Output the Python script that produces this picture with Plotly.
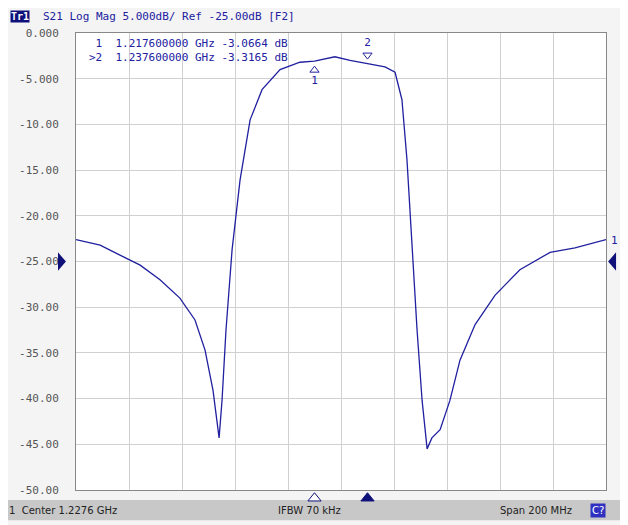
import plotly.graph_objects as go

freq_ghz = [1.1276,1.1367,1.1442,1.1518,1.1593,1.1668,1.1725,1.1763,1.1793,1.1816,1.1827,1.1842,1.1865,1.1895,1.1933,1.1978,1.2046,1.2121,1.2176,1.2253,1.2310,1.2376,1.2442,1.2480,1.2506,1.2525,1.2544,1.2563,1.2582,1.2601,1.2619,1.2650,1.2687,1.2725,1.2782,1.2857,1.2951,1.3065,1.3159,1.3276]
s21_db = [-22.6,-23.2,-24.3,-25.4,-27.0,-29.0,-31.4,-34.7,-39.1,-44.3,-40.2,-32.5,-23.7,-16.1,-9.5,-6.2,-4.0,-3.2,-3.07,-2.6,-3.0,-3.32,-3.7,-4.3,-7.3,-13.9,-23.7,-32.5,-40.2,-45.5,-44.3,-43.4,-40.2,-35.8,-31.9,-28.7,-25.9,-24.0,-23.5,-22.6]
marker_f = [1.2176, 1.2376]
marker_db = [-3.0664, -3.3165]
ytick_vals = [0,-5,-10,-15,-20,-25,-30,-35,-40,-45,-50]
ytick_text = ["0.000","-5.000","-10.00","-15.00","-20.00","-25.00","-30.00","-35.00","-40.00","-45.00","-50.00"]
xtick_vals = [1.1276 + 0.02*i for i in range(11)]

BLUE = "#2020a0"
DARK = "#10107a"
fig = go.Figure()
fig.add_trace(go.Scatter(x=freq_ghz, y=s21_db, mode="lines", line=dict(color=BLUE, width=1.3), hoverinfo="skip"))
fig.add_trace(go.Scatter(x=[marker_f[0]], y=[marker_db[0]-1.0], mode="markers+text", text=["1"], textposition="bottom center",
    marker=dict(symbol="triangle-up-open", size=8, color=BLUE), textfont=dict(color=BLUE, size=11, family="DejaVu Sans Mono")))
fig.add_trace(go.Scatter(x=[marker_f[1]], y=[marker_db[1]+0.9], mode="markers+text", text=["2"], textposition="top center",
    marker=dict(symbol="triangle-down-open", size=8, color=BLUE), textfont=dict(color=BLUE, size=11, family="DejaVu Sans Mono")))

fig.update_xaxes(range=[1.1276, 1.3276], tickvals=xtick_vals, showticklabels=False, showgrid=True, gridcolor="#d0d0d0",
    zeroline=False, showline=True, linecolor="#888", mirror=True, ticks="")
fig.update_yaxes(range=[-50, 0], tickvals=ytick_vals, ticktext=ytick_text, showgrid=True, gridcolor="#d0d0d0",
    zeroline=False, showline=True, linecolor="#888", mirror=True, ticks="", ticklabelstandoff=14,
    tickfont=dict(family="DejaVu Sans Mono", size=11, color="#555"))

def tri_up(xc, filled):
    w = 0.0025
    return dict(type="path", xref="x", yref="paper",
                path=f"M {xc-w} -0.024 L {xc} -0.006 L {xc+w} -0.024 Z",
                fillcolor=DARK if filled else "white", line=dict(color=DARK, width=1))

mono = dict(family="DejaVu Sans Mono", size=12, color=BLUE)
fig.update_layout(
    width=620, height=517, margin=dict(l=68, r=22, t=25, b=35),
    paper_bgcolor="#f4f4f4", plot_bgcolor="white", showlegend=False,
    shapes=[
        dict(type="rect", xref="paper", yref="paper", x0=-0.135, x1=1.03, y0=-0.022, y1=-0.066, fillcolor="#c8c8c8", line=dict(width=0), layer="below"),
        dict(type="path", xref="paper", yref="paper", path="M -0.034 0.52 L -0.019 0.5 L -0.034 0.48 Z", fillcolor=DARK, line=dict(width=0)),
        dict(type="path", xref="paper", yref="paper", path="M 1.019 0.52 L 1.004 0.5 L 1.019 0.48 Z", fillcolor=DARK, line=dict(width=0)),
        tri_up(marker_f[0], False), tri_up(marker_f[1], True),
    ],
)
fig.add_annotation(xref="paper", yref="paper", x=0.02, y=0.995, xanchor="left", yanchor="top", showarrow=False, align="left",
    text=" 1  1.217600000 GHz -3.0664 dB<br>>2  1.237600000 GHz -3.3165 dB", font=dict(family="DejaVu Sans Mono", size=11, color=BLUE))
fig.add_annotation(xref="paper", yref="paper", x=-0.125, y=1.037, xanchor="left", yanchor="middle", showarrow=False,
    text="<b>Tr1</b>", font=dict(family="DejaVu Sans Mono", size=10, color="white"), bgcolor=DARK, borderpad=0)
fig.add_annotation(xref="paper", yref="paper", x=-0.065, y=1.037, xanchor="left", yanchor="middle", showarrow=False,
    text="S21 Log Mag 5.000dB/ Ref -25.00dB [F2]", font=dict(family="DejaVu Sans Mono", size=11, color=BLUE), borderpad=0)
fig.add_annotation(xref="paper", yref="paper", x=1.005, y=0.547, xanchor="left", yanchor="middle", showarrow=False,
    text="1", font=dict(family="DejaVu Sans Mono", size=11, color=BLUE))
sb = dict(family="DejaVu Sans", size=10, color="#222")
fig.add_annotation(xref="paper", yref="paper", x=-0.13, y=-0.044, xanchor="left", yanchor="middle", showarrow=False, text="1  Center 1.2276 GHz", font=sb)
fig.add_annotation(xref="paper", yref="paper", x=0.44, y=-0.044, xanchor="center", yanchor="middle", showarrow=False, text="IFBW 70 kHz", font=sb)
fig.add_annotation(xref="paper", yref="paper", x=0.94, y=-0.044, xanchor="right", yanchor="middle", showarrow=False, text="Span 200 MHz", font=sb)
fig.add_annotation(xref="paper", yref="paper", x=0.985, y=-0.044, xanchor="center", yanchor="middle", showarrow=False, text="C?", font=dict(family="DejaVu Sans", size=10, color="white"), bgcolor="#3030c0")
fig.write_html("out.html")
